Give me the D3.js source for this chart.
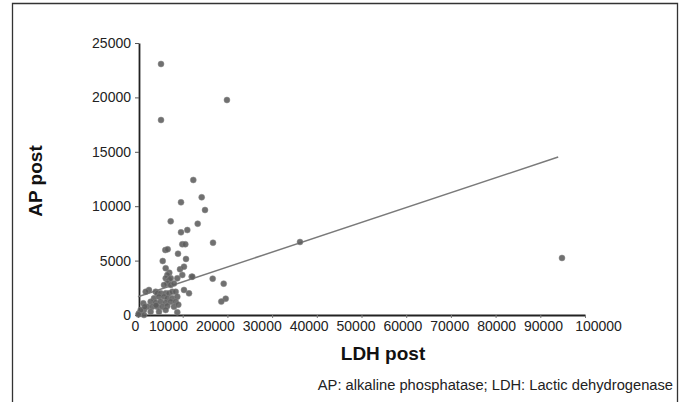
<!DOCTYPE html>
<html><head><meta charset="utf-8">
<script src="https://cdn.jsdelivr.net/npm/d3@7"></script>
<style>
html,body{margin:0;padding:0;background:#fff;}
svg{display:block;font-family:"Liberation Sans",Arial,sans-serif;}
</style></head>
<body>
<svg id="chart" width="685" height="402"></svg>
<script>
// LDH post (x) values
const ldhPost = [
  5150, 5150, 19900, 36240, 94850,
  12370, 9620, 14250, 14990, 7315, 13355, 9620, 11030, 16780, 6110, 6640, 9910, 10580,
  8950, 10740, 5530, 9400, 7000, 12010, 16710, 19170, 19620, 18640,
  6200, 6560, 6200, 6940, 7320, 10290, 9910, 8790, 12150,
  6560, 7320, 8050, 5820, 2460, 3960, 1715,
  4320, 5080, 6200, 6940, 7670, 8430,
  3580, 4700, 5820, 6560, 7670, 8790, 10290, 11410,
  2830, 3960, 5080, 6200, 7320, 8430,
  2080, 3200, 4320, 5440, 6560, 8050,
  1340, 2830, 4700, 6200, 600, 1340, 220, 600, 8790, 100,
  9020, 4030, 1185, 1500
];
// AP post (y) values
const apPost = [
  23070, 17920, 19760, 6710, 5240,
  12410, 10360, 10820, 9650, 8610, 8390, 7600, 7810, 6640, 5970, 6040, 6500, 6500,
  5630, 5150, 4960, 4200, 3890, 3520, 3340, 2880, 1500, 1230,
  4300, 3680, 3370, 3220, 3370, 4440, 3680, 3370, 3520,
  2910, 2760, 2900, 2760, 2300, 2140, 2140,
  1990, 1990, 1990, 1990, 2140, 2140,
  1530, 1680, 1680, 1530, 1530, 1680, 2300, 1990,
  1220, 1130, 1220, 1130, 1220, 1220,
  760, 760, 760, 760, 830, 760,
  460, 300, 300, 460, 160, 0, 160, 460, 250, 50,
  950, 890, 1070, 760
];
// Linear trend line end points (LDH, AP)
const trendLdh = [0, 94000];
const trendAp = [1680, 14520];
// Tick labels
const xTicks = [0,10000,20000,30000,40000,50000,60000,70000,80000,90000,100000];
const yTicks = [0,5000,10000,15000,20000,25000];

const svg = d3.select("#chart");

// outer frame (open at bottom)
svg.append("path")
  .attr("d", "M12.5,402 V3.5 H677.5 V402")
  .attr("fill","none").attr("stroke","#333").attr("stroke-width",1.3);

const x = d3.scaleLinear().domain([0,100000]).range([138,585]);
const y = d3.scaleLinear().domain([0,25000]).range([315,43]);
// label placement scale for x tick texts (labels in the reference are spread slightly wider than ticks)
const xLab = d3.scaleLinear().domain([0,10000,90000,100000]).range([135,168,543,598]);

// y axis
const yAxis = svg.append("g").attr("transform","translate(139,0)")
  .call(d3.axisLeft(y).tickValues(yTicks).tickSize(4).tickPadding(4).tickSizeOuter(0).tickFormat(d3.format("d")));
yAxis.select(".domain").attr("stroke","#222").attr("stroke-width",1.8);
yAxis.selectAll(".tick line").attr("stroke","#555");
yAxis.selectAll(".tick text").attr("font-size","14px").attr("fill","#222")
  .attr("font-family","'Liberation Sans',Arial,sans-serif");

// x axis ticks
const xAxis = svg.append("g").attr("transform","translate(0,315)")
  .call(d3.axisBottom(x).tickValues(xTicks).tickSize(3).tickSizeOuter(0).tickFormat(""));
xAxis.select(".domain").attr("stroke","#222").attr("stroke-width",1.8);
xAxis.selectAll(".tick line").attr("stroke","#777");

// x axis labels
const xLabAxis = svg.append("g").attr("transform","translate(0,316)")
  .call(d3.axisBottom(xLab).tickValues(xTicks).tickSize(0).tickPadding(5).tickFormat(d3.format("d")));
xLabAxis.select(".domain").remove();
xLabAxis.selectAll(".tick text").attr("font-size","14px").attr("fill","#222")
  .attr("font-family","'Liberation Sans',Arial,sans-serif");

// trend line
svg.append("line")
  .attr("x1", x(trendLdh[0])).attr("y1", y(trendAp[0]))
  .attr("x2", x(trendLdh[1])).attr("y2", y(trendAp[1]))
  .attr("stroke","#7a7a7a").attr("stroke-width",1.5);

// points
svg.append("g").selectAll("circle")
  .data(ldhPost.map((d,i)=>[d, apPost[i]]))
  .join("circle")
  .attr("cx", d=>x(d[0])).attr("cy", d=>y(d[1]))
  .attr("r", 3)
  .attr("fill","#5c5c5c").attr("fill-opacity",0.88)
  .attr("stroke","#8a8a8a").attr("stroke-width",0.5);

// axis titles
svg.append("text")
  .attr("transform","translate(42,181) rotate(-90)")
  .attr("text-anchor","middle")
  .attr("font-size","19px").attr("font-weight","bold").attr("fill","#111")
  .text("AP post");

svg.append("text")
  .attr("x",383).attr("y",360)
  .attr("text-anchor","middle")
  .attr("font-size","19px").attr("font-weight","bold").attr("fill","#111")
  .text("LDH post");

svg.append("text")
  .attr("x",673).attr("y",390)
  .attr("text-anchor","end")
  .attr("font-size","14.7px").attr("fill","#222")
  .text("AP: alkaline phosphatase; LDH: Lactic dehydrogenase");
</script>
</body></html>
